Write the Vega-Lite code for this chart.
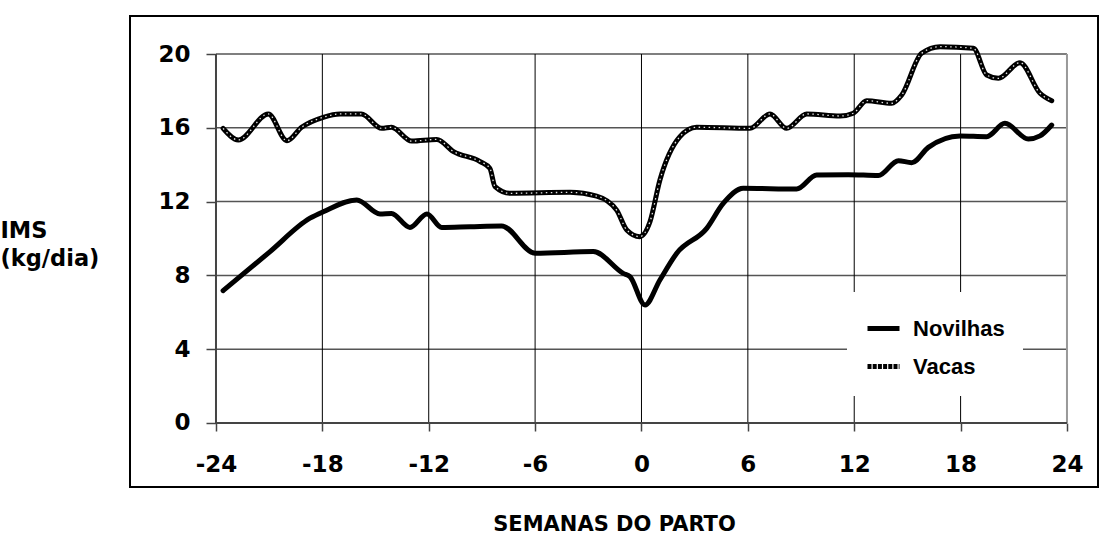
{
  "$schema": "https://vega.github.io/schema/vega-lite/v6.json",
  "width": 968,
  "height": 471,
  "autosize": {"type": "none"},
  "padding": {"left": 130, "top": 16, "right": 2, "bottom": 49},
  "background": "white",
  "config": {"view": {"stroke": "black", "strokeWidth": 2}},
  "datasets": {
    "series": [
      {"serie": "Novilhas", "semana": -23.6, "ims": 7.17},
      {"serie": "Novilhas", "semana": -21.0, "ims": 9.25},
      {"serie": "Novilhas", "semana": -18.7, "ims": 11.1},
      {"serie": "Novilhas", "semana": -17.95, "ims": 11.45},
      {"serie": "Novilhas", "semana": -16.06, "ims": 12.09},
      {"serie": "Novilhas", "semana": -14.75, "ims": 11.33},
      {"serie": "Novilhas", "semana": -14.1, "ims": 11.36},
      {"serie": "Novilhas", "semana": -13.06, "ims": 10.6},
      {"serie": "Novilhas", "semana": -12.1, "ims": 11.33},
      {"serie": "Novilhas", "semana": -11.27, "ims": 10.6},
      {"serie": "Novilhas", "semana": -9.67, "ims": 10.64},
      {"serie": "Novilhas", "semana": -7.89, "ims": 10.68},
      {"serie": "Novilhas", "semana": -6.0, "ims": 9.2},
      {"serie": "Novilhas", "semana": -2.72, "ims": 9.29},
      {"serie": "Novilhas", "semana": -1.03, "ims": 8.11},
      {"serie": "Novilhas", "semana": -0.65, "ims": 7.93},
      {"serie": "Novilhas", "semana": 0.2, "ims": 6.4},
      {"serie": "Novilhas", "semana": 1.04, "ims": 7.75},
      {"serie": "Novilhas", "semana": 1.99, "ims": 9.2},
      {"serie": "Novilhas", "semana": 3.68, "ims": 10.55},
      {"serie": "Novilhas", "semana": 4.61, "ims": 11.9},
      {"serie": "Novilhas", "semana": 5.74, "ims": 12.72},
      {"serie": "Novilhas", "semana": 8.75, "ims": 12.68},
      {"serie": "Novilhas", "semana": 9.88, "ims": 13.44},
      {"serie": "Novilhas", "semana": 11.67, "ims": 13.46},
      {"serie": "Novilhas", "semana": 13.36, "ims": 13.41},
      {"serie": "Novilhas", "semana": 14.49, "ims": 14.22},
      {"serie": "Novilhas", "semana": 15.24, "ims": 14.11},
      {"serie": "Novilhas", "semana": 16.18, "ims": 14.94},
      {"serie": "Novilhas", "semana": 17.97, "ims": 15.56},
      {"serie": "Novilhas", "semana": 19.47, "ims": 15.52},
      {"serie": "Novilhas", "semana": 20.5, "ims": 16.24},
      {"serie": "Novilhas", "semana": 21.82, "ims": 15.39},
      {"serie": "Novilhas", "semana": 22.48, "ims": 15.56},
      {"serie": "Novilhas", "semana": 23.14, "ims": 16.15},
      {"serie": "Vacas", "semana": -23.6, "ims": 15.97},
      {"serie": "Vacas", "semana": -22.74, "ims": 15.34},
      {"serie": "Vacas", "semana": -21.05, "ims": 16.75},
      {"serie": "Vacas", "semana": -20.0, "ims": 15.3},
      {"serie": "Vacas", "semana": -19.17, "ims": 16.03},
      {"serie": "Vacas", "semana": -17.95, "ims": 16.57},
      {"serie": "Vacas", "semana": -17.0, "ims": 16.75},
      {"serie": "Vacas", "semana": -15.8, "ims": 16.75},
      {"serie": "Vacas", "semana": -14.65, "ims": 15.97},
      {"serie": "Vacas", "semana": -14.1, "ims": 16.03},
      {"serie": "Vacas", "semana": -12.96, "ims": 15.28},
      {"serie": "Vacas", "semana": -11.55, "ims": 15.37},
      {"serie": "Vacas", "semana": -10.6, "ims": 14.71},
      {"serie": "Vacas", "semana": -9.1, "ims": 14.17},
      {"serie": "Vacas", "semana": -8.55, "ims": 13.8},
      {"serie": "Vacas", "semana": -8.26, "ims": 12.81},
      {"serie": "Vacas", "semana": -7.42, "ims": 12.45},
      {"serie": "Vacas", "semana": -4.03, "ims": 12.5},
      {"serie": "Vacas", "semana": -2.53, "ims": 12.3},
      {"serie": "Vacas", "semana": -1.4, "ims": 11.54},
      {"serie": "Vacas", "semana": -0.83, "ims": 10.46},
      {"serie": "Vacas", "semana": -0.1, "ims": 10.1},
      {"serie": "Vacas", "semana": 0.48, "ims": 10.91},
      {"serie": "Vacas", "semana": 1.04, "ims": 13.17},
      {"serie": "Vacas", "semana": 2.17, "ims": 15.52},
      {"serie": "Vacas", "semana": 3.11, "ims": 16.03},
      {"serie": "Vacas", "semana": 6.12, "ims": 15.97},
      {"serie": "Vacas", "semana": 7.25, "ims": 16.75},
      {"serie": "Vacas", "semana": 8.19, "ims": 15.97},
      {"serie": "Vacas", "semana": 9.32, "ims": 16.75},
      {"serie": "Vacas", "semana": 11.2, "ims": 16.64},
      {"serie": "Vacas", "semana": 11.95, "ims": 16.79},
      {"serie": "Vacas", "semana": 12.7, "ims": 17.47},
      {"serie": "Vacas", "semana": 14.11, "ims": 17.33},
      {"serie": "Vacas", "semana": 14.68, "ims": 17.78},
      {"serie": "Vacas", "semana": 15.8, "ims": 20.04},
      {"serie": "Vacas", "semana": 16.84, "ims": 20.4},
      {"serie": "Vacas", "semana": 18.72, "ims": 20.31},
      {"serie": "Vacas", "semana": 19.47, "ims": 18.86},
      {"serie": "Vacas", "semana": 20.13, "ims": 18.68},
      {"serie": "Vacas", "semana": 21.35, "ims": 19.53},
      {"serie": "Vacas", "semana": 22.48, "ims": 17.87},
      {"serie": "Vacas", "semana": 23.14, "ims": 17.47}
    ],
    "hgrid": [{"ims": 4}, {"ims": 8}, {"ims": 12}, {"ims": 16}, {"ims": 20}],
    "vgrid": [{"semana": -18}, {"semana": -12}, {"semana": -6}, {"semana": 0}, {"semana": 6}, {"semana": 12}, {"semana": 18}]
  },
  "layer": [
    {
      "data": {"name": "hgrid"},
      "mark": {"type": "rule", "color": "#555555", "strokeWidth": 1.5},
      "encoding": {
        "y": {"field": "ims", "type": "quantitative"},
        "x": {"datum": -24, "type": "quantitative"},
        "x2": {"datum": 24}
      }
    },
    {
      "data": {"name": "vgrid"},
      "mark": {"type": "rule", "color": "black", "strokeWidth": 1},
      "encoding": {
        "x": {"field": "semana", "type": "quantitative"},
        "y": {"datum": 0, "type": "quantitative"},
        "y2": {"datum": 20}
      }
    },
    {
      "data": {"values": [{"semana": 24}]},
      "mark": {"type": "rule", "color": "#999999", "strokeWidth": 2},
      "encoding": {
        "x": {"field": "semana", "type": "quantitative"},
        "y": {"datum": 0, "type": "quantitative"},
        "y2": {"datum": 20}
      }
    },
    {
      "data": {"values": [{"ims": 0}]},
      "mark": {"type": "rule", "color": "#444444", "strokeWidth": 2},
      "encoding": {
        "y": {"field": "ims", "type": "quantitative"},
        "x": {"datum": -24, "type": "quantitative"},
        "x2": {"datum": 24}
      }
    },
    {
      "data": {"values": [{"semana": -24}]},
      "mark": {"type": "rule", "color": "#444444", "strokeWidth": 2},
      "encoding": {
        "x": {"field": "semana", "type": "quantitative"},
        "y": {"datum": 0, "type": "quantitative"},
        "y2": {"datum": 20}
      }
    },
    {
      "data": {"name": "series"},
      "mark": {"type": "line", "interpolate": "monotone", "strokeWidth": 5, "strokeCap": "round", "strokeJoin": "round"},
      "encoding": {
        "x": {
          "field": "semana", "type": "quantitative",
          "scale": {"domain": [-28.85, 25.75], "nice": false, "zero": false},
          "axis": {
            "orient": "bottom",
            "values": [-24, -18, -12, -6, 0, 6, 12, 18, 24],
            "offset": -64,
            "domain": false, "grid": false,
            "ticks": true, "tickSize": 8, "tickColor": "#444444", "tickWidth": 1.5,
            "labelExpr": "'' + datum.value",
            "labelFont": "DejaVu Sans", "labelFontWeight": "bold", "labelFontSize": 23, "labelColor": "black",
            "labelPadding": 22,
            "title": "SEMANAS DO PARTO",
            "titleFont": "DejaVu Sans", "titleFontWeight": "bold", "titleFontSize": 21, "titleColor": "black",
            "titleBaseline": "alphabetic", "titleY": 107
          }
        },
        "y": {
          "field": "ims", "type": "quantitative",
          "scale": {"domain": [-3.47, 22.06], "nice": false, "zero": false},
          "axis": {
            "orient": "left",
            "values": [0, 4, 8, 12, 16, 20],
            "offset": -86,
            "domain": false, "grid": false,
            "ticks": true, "tickSize": 10, "tickColor": "#444444", "tickWidth": 1.5,
            "labelFont": "DejaVu Sans", "labelFontWeight": "bold", "labelFontSize": 23, "labelColor": "black",
            "labelPadding": 16,
            "title": ["IMS", "(kg/dia)"],
            "titleFont": "DejaVu Sans", "titleFontWeight": "bold", "titleFontSize": 22.5, "titleColor": "black",
            "titleAngle": 0, "titleAlign": "left", "titleBaseline": "alphabetic",
            "titleX": -216, "titleY": 221, "titleLineHeight": 28
          }
        },
        "detail": {"field": "serie"},
        "color": {
          "field": "serie", "type": "nominal",
          "scale": {"domain": ["Novilhas", "Vacas"], "range": ["black", "black"]},
          "legend": {
            "orient": "none", "legendX": 717, "legendY": 276,
            "title": null, "fillColor": "white", "padding": 18,
            "symbolType": "stroke", "symbolSize": 1024, "symbolStrokeWidth": 5,
            "labelFont": "Liberation Sans", "labelFontWeight": "bold", "labelFontSize": 22, "labelColor": "black",
            "labelOffset": 11, "rowPadding": 8,
            "encode": {"symbols": {"update": {"strokeDash": {"signal": "datum.value == 'Vacas' ? [4, 1.2] : [1, 0]"}}}}
          }
        }
      }
    },
    {
      "data": {"name": "series"},
      "transform": [{"filter": "datum.serie == 'Vacas'"}],
      "mark": {"type": "line", "interpolate": "monotone", "strokeWidth": 1.3, "color": "#e6e6e6", "strokeDash": [1.5, 3.5]},
      "encoding": {
        "x": {"field": "semana", "type": "quantitative"},
        "y": {"field": "ims", "type": "quantitative"}
      }
    }
  ]
}
